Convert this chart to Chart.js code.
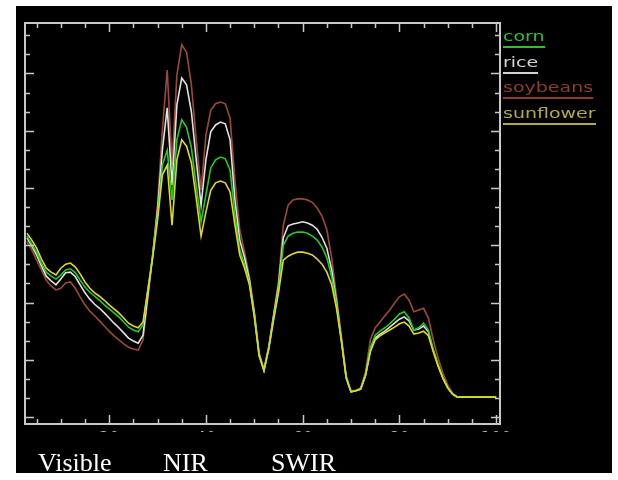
<!DOCTYPE html>
<html>
<head>
<meta charset="utf-8">
<script src="https://cdn.jsdelivr.net/npm/chart.js@4"></script>
<style>
  html, body { margin: 0; padding: 0; background: #ffffff; width: 618px; height: 480px; overflow: hidden; }
  #box { position: absolute; left: 16px; top: 6px; width: 596px; height: 467px; background: #000; }
  #c { position: absolute; left: 0; top: 0; }
  .lg { position: absolute; left: 503px; }
  .lg span { display: block; font-family: "DejaVu Sans", sans-serif; font-size: 19px; line-height: 19px; transform: scaleY(0.72); transform-origin: 0 0; white-space: nowrap; }
  .lg i { position: absolute; left: 0; top: 17px; height: 2px; }
  #band { position: absolute; left: 16px; top: 432px; width: 596px; height: 41px; background: #000; }
  .bl { position: absolute; top: 450px; font-family: "Liberation Serif", "Times New Roman", serif; font-size: 26px; line-height: 26px; color: #fff; white-space: nowrap; }
</style>
</head>
<body>
<div id="box"><canvas id="c" width="596" height="467"></canvas></div>
<div id="band"></div>
<div id="labels"></div>
<div id="legend"></div>
<script>
// ---- data ----
const bands = [3,4,5,6,7,8,9,10,11,12,13,14,15,16,17,18,19,20,21,22,23,24,25,26,27,28,29,30,31,32,33,34,35,36,37,38,39,40,41,42,43,44,45,46,47,48,49,50,51,52,53,54,55,56,57,58,59,60,61,62,63,64,65,66,67,68,69,70,71,72,73,74,75,76,77,78,79,80,81,82,83,84,85,86,87,88,89,90,91,92,93,94,95,96,97,98,99,100];

const corn = [31.6,30.2,28.8,26.9,25.3,24.6,24.1,24.8,25.7,25.9,
  25.2,23.9,22.7,21.8,21.1,20.4,19.6,18.9,18.2,17.5,
  16.6,15.7,15.2,14.9,16.1,22.2,28.3,35.3,44.0,46.6,
  37.9,48.4,51.9,50.6,47.0,40.5,34.1,38.8,43.5,44.9,
  45.4,45.1,43.1,35.3,29.2,26.6,23.4,17.8,10.8,8.2,
  12.1,17.3,22.2,30.0,31.6,32.1,32.3,32.3,32.1,31.6,
  30.9,29.7,27.8,24.5,19.6,13.5,6.8,4.4,4.6,4.9,
  7.4,12.1,14.3,15.0,15.6,16.3,17.1,18.0,18.4,17.3,
  15.2,15.6,16.4,15.2,11.7,9.1,6.8,5.1,4.0,3.5,
  3.5,3.5,3.5,3.5,3.5,3.5,3.5,3.5];

const rice = [31.3,29.9,28.3,26.4,24.6,23.8,23.1,24.1,25.2,25.3,
  24.5,23.1,21.7,20.6,19.7,19.0,18.2,17.3,16.4,15.6,
  14.7,13.8,13.3,12.9,14.3,21.3,28.3,36.2,46.6,54.0,
  40.5,54.5,59.2,58.0,53.3,44.9,37.0,44.9,49.8,51.0,
  51.5,51.2,48.4,37.9,30.9,27.8,23.9,18.2,11.0,8.2,
  12.2,17.7,22.9,31.3,33.4,33.7,33.9,34.1,33.9,33.5,
  32.8,31.4,29.5,25.7,20.1,13.6,7.0,4.4,4.6,4.9,
  7.4,11.7,13.8,14.5,15.0,15.7,16.4,17.1,17.5,16.8,
  15.2,15.4,15.9,14.9,11.7,9.1,6.8,5.1,4.0,3.5,
  3.5,3.5,3.5,3.5,3.5,3.5,3.5,3.5];

const soybeans = [30.7,29.2,27.4,25.7,23.9,22.9,22.2,22.5,23.4,23.6,
  22.5,21.0,19.6,18.5,17.7,16.8,15.9,15.0,14.2,13.5,
  12.8,12.2,11.9,11.7,13.5,20.8,28.3,37.0,50.1,60.6,
  44.0,59.7,65.0,63.7,58.0,48.4,39.6,49.2,53.6,54.7,
  55.0,54.7,52.2,41.4,32.7,28.8,24.5,18.4,11.2,8.4,
  12.4,18.0,23.6,33.5,37.0,37.9,38.1,38.1,37.9,37.5,
  36.5,35.1,32.7,27.8,21.1,14.2,7.2,4.6,4.7,5.1,
  7.9,13.5,15.6,16.6,17.7,18.7,19.9,21.0,21.5,20.4,
  18.4,18.7,19.0,17.3,13.5,10.3,7.7,5.6,4.2,3.5,
  3.5,3.5,3.5,3.5,3.5,3.5,3.5,3.5];

const sunflower = [32.1,30.9,29.5,27.6,26.0,25.3,24.8,26.0,26.7,26.9,
  26.2,25.0,23.6,22.5,21.7,21.1,20.4,19.6,18.9,18.2,
  17.3,16.4,15.9,15.6,16.6,22.2,27.8,34.4,42.3,44.0,
  33.5,44.9,48.4,47.3,44.4,38.2,31.6,35.8,39.6,40.9,
  41.2,40.9,39.3,33.5,28.3,26.0,23.1,17.5,10.7,8.1,
  11.9,17.0,21.7,27.4,28.1,28.5,28.8,28.8,28.6,28.3,
  27.6,26.7,25.3,23.1,19.0,13.3,6.8,4.4,4.6,4.9,
  7.2,11.4,13.5,14.2,14.7,15.2,15.7,16.3,16.6,15.9,
  14.5,14.7,15.0,14.2,11.4,8.9,6.8,5.1,4.0,3.5,
  3.5,3.5,3.5,3.5,3.5,3.5,3.5,3.5];

const seriesNames = ["corn", "rice", "soybeans", "sunflower"];
const xTickLabels = [20, 40, 60, 80, 100];
const regionLabels = ["Visible", "NIR", "SWIR"];

// ---- styles ----
const lineColors = ["#22cc22", "#e2e2e2", "#9c4a38", "#e0d824"];
const legendColors = ["#2fbf2f", "#d2d2d2", "#8e3c2c", "#b4ac3a"];
const drawOrder = [1, 2, 3, 0];
const seriesData = [corn, rice, soybeans, sunflower];

const framePlugin = {
  id: 'frame',
  afterDatasetsDraw(chart) {
    const { ctx, chartArea: a, scales } = chart;
    const x = scales.x, y = scales.y;
    ctx.save();
    ctx.strokeStyle = '#c8c8c8';
    ctx.lineWidth = 1.5;
    ctx.beginPath();
    for (let v = 5; v <= 100; v += 5) {
      const px = Math.round(x.getPixelForValue(v)) + 0.5;
      const len = (v % 20 === 0) ? 9 : 5;
      ctx.moveTo(px, a.bottom); ctx.lineTo(px, a.bottom - len);
      ctx.moveTo(px, a.top); ctx.lineTo(px, a.top + len);
    }
    for (let k = 0; k <= 21; k++) {
      const v = k * 10 / 3;
      if (v > y.max) break;
      const py = Math.round(y.getPixelForValue(v)) + 0.5;
      const len = (k % 3 === 0) ? 9 : 5;
      ctx.moveTo(a.left, py); ctx.lineTo(a.left + len, py);
      ctx.moveTo(a.right, py); ctx.lineTo(a.right - len, py);
    }
    ctx.stroke();
    ctx.lineWidth = 2;
    ctx.strokeRect(a.left, a.top, a.right - a.left, a.bottom - a.top);
    ctx.restore();
  }
};

new Chart(document.getElementById('c'), {
  type: 'line',
  data: {
    datasets: seriesNames.map((name, i) => ({
      label: name,
      data: bands.map((b, j) => ({ x: b, y: seriesData[i][j] })),
      borderColor: lineColors[i],
      borderWidth: 1.6,
      pointRadius: 0,
      tension: 0,
      order: drawOrder[i]
    }))
  },
  options: {
    responsive: false,
    animation: false,
    devicePixelRatio: 1,
    layout: { padding: { left: 9, right: 112, top: 17, bottom: 27 } },
    plugins: { legend: { display: false }, tooltip: { enabled: false } },
    scales: {
      x: {
        type: 'linear', min: 2.6, max: 100.8,
        grid: { display: false, drawTicks: false }, border: { display: false },
        afterBuildTicks: s => { s.ticks = xTickLabels.map(v => ({ value: v })); },
        afterFit: s => { s.height = 22; },
        ticks: { color: '#bdbdbd', padding: 5, maxRotation: 0, autoSkip: false,
                 font: { family: 'DejaVu Sans', size: 16 } }
      },
      y: { type: 'linear', min: -1.2, max: 68.8, display: false }
    }
  },
  plugins: [framePlugin]
});

// legend
const lg = document.getElementById('legend');
seriesNames.forEach((name, i) => {
  const d = document.createElement('div');
  d.className = 'lg';
  d.style.top = (29 + i * 25.7) + 'px';
  const s = document.createElement('span');
  s.textContent = name;
  s.style.color = legendColors[i];
  d.appendChild(s);
  const u = document.createElement('i');
  u.style.background = legendColors[i];
  d.appendChild(u);
  lg.appendChild(d);
  u.style.width = s.getBoundingClientRect().width + 'px';
});

// region labels
const lbl = document.getElementById('labels');
const regionLeft = [38, 163, 271];
regionLabels.forEach((t, i) => {
  const d = document.createElement('div');
  d.className = 'bl';
  d.style.left = regionLeft[i] + 'px';
  d.textContent = t;
  lbl.appendChild(d);
});
</script>
</body>
</html>
